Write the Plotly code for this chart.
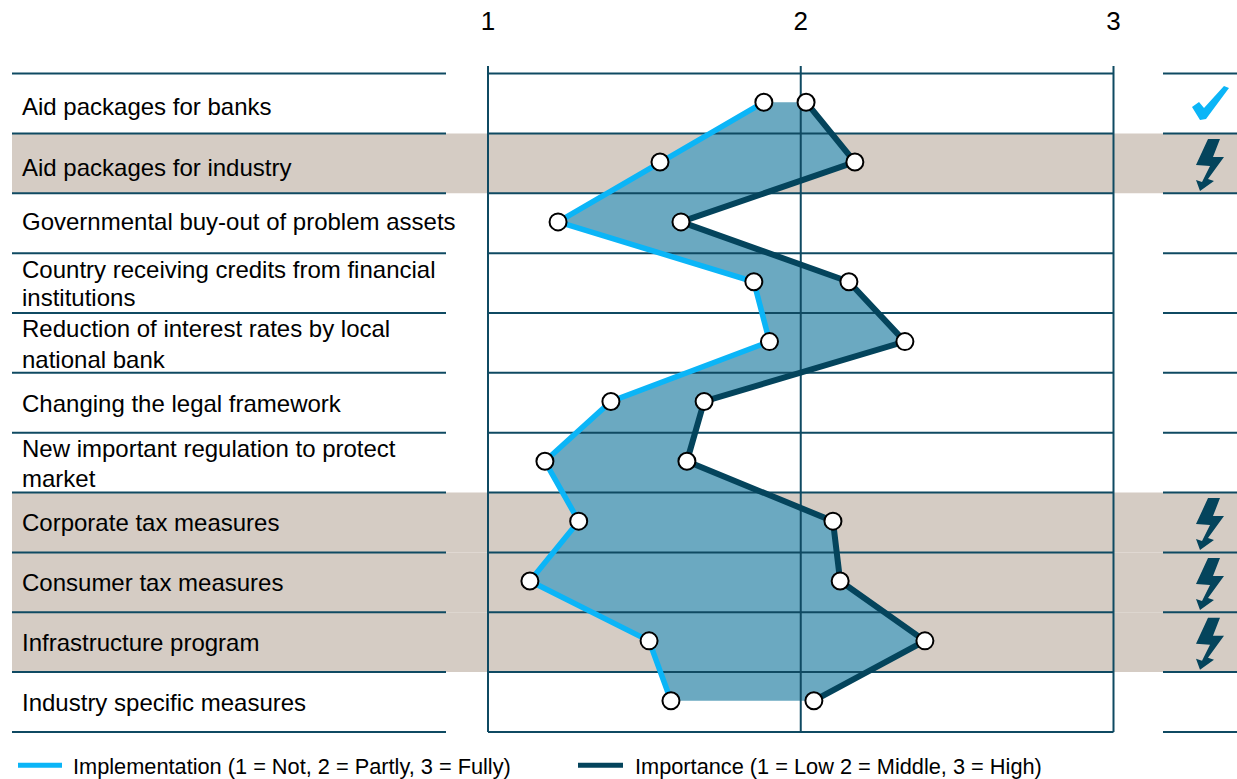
import plotly.graph_objects as go

categories = [
    ["Aid packages for banks"],
    ["Aid packages for industry"],
    ["Governmental buy-out of problem assets"],
    ["Country receiving credits from financial", "institutions"],
    ["Reduction of interest rates by local", "national bank"],
    ["Changing the legal framework"],
    ["New important regulation to protect", "market"],
    ["Corporate tax measures"],
    ["Consumer tax measures"],
    ["Infrastructure program"],
    ["Industry specific measures"],
]
implementation = [1.882, 1.55, 1.224, 1.85, 1.90, 1.393, 1.182, 1.29, 1.134, 1.515, 1.585]
importance = [2.017, 2.173, 1.617, 2.154, 2.333, 1.691, 1.636, 2.103, 2.126, 2.397, 2.042]
highlighted = [1, 7, 8, 9]
flag_bolt = [1, 7, 8, 9]
flag_check = [0]
ticks = [1, 2, 3]

W, H = 1237, 779
TOP = 66
C_IMPL = "#0BB5F7"
C_IMP = "#04445C"
C_LINE = "#0F4A62"
C_BAND = "#D5CCC4"
C_FILL = "#6BA9C1"
ROW_H = 59.85
CENTER0 = 102.2
LINE_SHIFT = 1.3 / ROW_H

def px2x(p):
    return 1 + (p - 488) / 312.75
def py2y(p):
    return (p - CENTER0) / ROW_H

rows = list(range(len(categories)))
fig = go.Figure()

fig.add_trace(go.Scatter(
    x=implementation + importance[::-1], y=rows + rows[::-1],
    mode="lines", fill="toself", fillcolor=C_FILL, line=dict(width=0),
    hoverinfo="skip", showlegend=False))

n = len(rows)
bounds = [i - 0.5 + LINE_SHIFT for i in range(n + 1)]
for b in bounds:
    for a, c in ((12, 446), (488, 1113.5), (1163, 1237)):
        fig.add_trace(go.Scatter(x=[px2x(a), px2x(c)], y=[b, b], mode="lines",
                                 line=dict(color=C_LINE, width=2),
                                 hoverinfo="skip", showlegend=False))
for t in ticks:
    fig.add_trace(go.Scatter(x=[t, t], y=[py2y(TOP), bounds[-1]], mode="lines",
                             line=dict(color=C_LINE, width=2),
                             hoverinfo="skip", showlegend=False))

fig.add_trace(go.Scatter(x=implementation, y=rows, mode="lines", name="Implementation (1 = Not, 2 = Partly, 3 = Fully)",
                         line=dict(color=C_IMPL, width=5.5), showlegend=False))
fig.add_trace(go.Scatter(x=importance, y=rows, mode="lines", name="Importance (1 = Low 2 = Middle, 3 = High)",
                         line=dict(color=C_IMP, width=6), showlegend=False))
fig.add_trace(go.Scatter(x=implementation + importance, y=rows + rows, mode="markers",
                         marker=dict(size=17, color="white", line=dict(color="black", width=2)),
                         showlegend=False))

shapes = []
for r in highlighted:
    shapes.append(dict(type="rect", xref="paper", yref="y", x0=12 / W, x1=1,
                       y0=r - 0.5 + LINE_SHIFT, y1=r + 0.5 + LINE_SHIFT,
                       fillcolor=C_BAND, line=dict(width=0), layer="below"))

def poly(points, color):
    d = "M " + " L ".join(f"{x},{y}" for x, y in points) + " Z"
    return dict(type="path", path=d, fillcolor=color, line=dict(width=0), layer="above")

BOLT = [(1208, 139), (1220, 139), (1213, 157), (1224, 157), (1208, 179), (1214, 181),
        (1200, 191), (1196, 180), (1202, 182), (1210, 166), (1196, 165)]
CHECK = [(1192, 107), (1199, 102), (1204, 108), (1224, 86), (1229, 88), (1206, 119), (1200, 120)]

def to_data(pts, dy=0):
    return [(round(px2x(x), 4), round(py2y(y + dy), 4)) for x, y in pts]

for r in flag_bolt:
    shapes.append(poly(to_data(BOLT, (r - 1) * ROW_H), C_IMP))
for r in flag_check:
    shapes.append(poly(to_data(CHECK, r * ROW_H), C_IMPL))

FONT = "Liberation Sans"
FS = 24
label_offsets = [[3.8], [5.8], [-0.2], [-12.7, 15.8], [-12.7, 17.8], [1.8], [-12.7, 16.8],
                 [1.8], [1.8], [1.8], [1.8]]
ann = []
for r, lines in enumerate(categories):
    for l, o in zip(lines, label_offsets[r]):
        ann.append(dict(xref="paper", yref="y", x=22 / W, y=r, yshift=-o, text=l, showarrow=False,
                        xanchor="left", yanchor="middle", xshift=-2,
                        font=dict(family=FONT, size=FS, color="#000")))
for tx, lx, a, b, c in (("Implementation (1 = Not, 2 = Partly, 3 = Fully)", 73, 18, 62, C_IMPL),
                        ("Importance (1 = Low 2 = Middle, 3 = High)", 635, 578, 623, C_IMP)):
    ann.append(dict(xref="paper", yref="paper", x=lx / W, y=1 - 765 / H, text=tx, showarrow=False,
                    xanchor="left", yanchor="middle", xshift=-2,
                    font=dict(family=FONT, size=21.75, color="#000")))
    shapes.append(dict(type="line", xref="paper", yref="paper", x0=a / W, x1=b / W,
                       y0=1 - 764 / H, y1=1 - 764 / H, line=dict(color=c, width=5)))

fig.update_layout(
    width=W, height=H, margin=dict(l=0, r=0, t=TOP, b=0),
    paper_bgcolor="white", plot_bgcolor="rgba(0,0,0,0)",
    showlegend=False, shapes=shapes, annotations=ann,
    xaxis=dict(range=[px2x(0), px2x(W)], side="top", tickvals=ticks, ticktext=[str(t) for t in ticks],
               showgrid=False, zeroline=False, showline=False, ticks="outside", ticklen=25,
               tickcolor="rgba(0,0,0,0)", tickfont=dict(family=FONT, size=26, color="#000")),
    yaxis=dict(range=[py2y(H), py2y(TOP)], showgrid=False, zeroline=False, showline=False,
               showticklabels=False, ticks=""),
)
fig.write_html("out.html", config={"displayModeBar": False},
               post_script="document.body.style.margin='0';document.body.style.overflow='hidden';")
